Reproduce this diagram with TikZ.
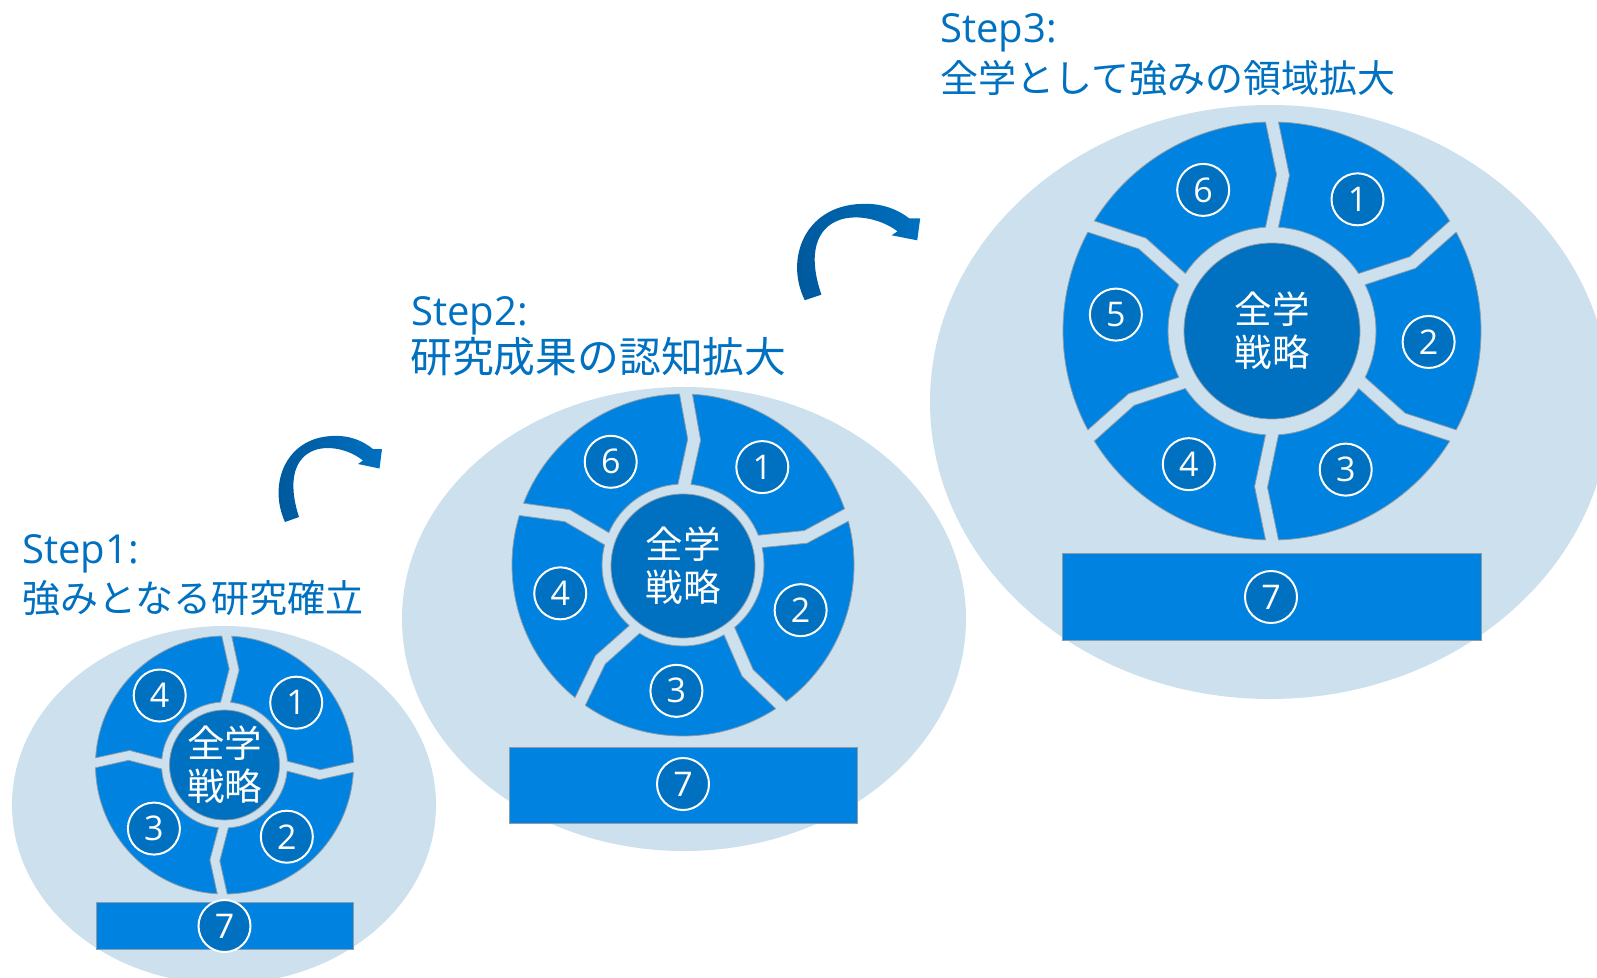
\documentclass[tikz,border=0pt]{standalone}
\usepackage{fontspec}
\setmainfont{Open Sans}
\newfontfamily\jpfont{Noto Sans CJK JP}
\definecolor{bgblue}{HTML}{CCE0ED}
\definecolor{segblue}{HTML}{0082E0}
\definecolor{darkblue}{HTML}{0070C0}
\definecolor{arrowdark}{HTML}{00579A}
\definecolor{edgegray}{HTML}{8E9CA8}

\newcommand\ringseg[8]{%
 \pgfmathsetmacro\sgM{(#3+#4)/2}%
 \pgfmathsetmacro\sgdR{deg(#5/2/#3)}%
 \pgfmathsetmacro\sgdI{deg(#5/2/#4)}%
 \pgfmathsetmacro\sgdM{deg(#5/2/\sgM)}%
 \pgfmathsetmacro\sgK{deg(#6/\sgM)}%
 \pgfmathsetmacro\sgA{#7+\sgdR}%
 \pgfmathsetmacro\sgB{#8-\sgdR}%
 \pgfmathsetmacro\sgC{#8-\sgdM+\sgK}%
 \pgfmathsetmacro\sgD{#8-\sgdI}%
 \pgfmathsetmacro\sgE{#7+\sgdI}%
 \pgfmathsetmacro\sgF{#7+\sgdM+\sgK}%
 \draw[segstyle] ([shift={(#1,#2)}]\sgA:#3) arc[start angle=\sgA, end angle=\sgB, radius=#3]
   -- ([shift={(#1,#2)}]\sgC:\sgM) -- ([shift={(#1,#2)}]\sgD:#4)
   arc[start angle=\sgD, end angle=\sgE, radius=#4]
   -- ([shift={(#1,#2)}]\sgF:\sgM) -- cycle;%
}
\newcommand\myring[7]{%
 \foreach \sgp/\sgq in {#7}{\ringseg{#1}{#2}{#3}{#4}{#5}{#6}{\sgp}{\sgq}}%
}
\newcommand\arrowpath{(25,102) .. controls (8,65) and (25,18) .. (72,16)
 .. controls (90,15) and (103,21) .. (113,29)
 -- (122,29) -- (119.5,48.5) -- (98,44) -- (103,40.5)
 .. controls (90,30) and (70,25) .. (55,30)
 .. controls (35,37) and (27,60) .. (39,97) -- cycle}

\tikzset{
 segstyle/.style={fill=segblue, draw=edgegray, line width=0.8pt, line join=round},
 hubstyle/.style={circle, fill=darkblue, draw=edgegray, line width=0.8pt, inner sep=0pt,
   text=white, align=center, font=\jpfont\fontsize{37.5}{43}\selectfont},
 numstyle/.style={circle, fill=darkblue, draw=white, line width=2pt, minimum size=52pt,
   inner sep=0pt, text=white, font=\fontsize{34}{34}\selectfont},
 barstyle/.style={rectangle, fill=segblue, draw=edgegray, line width=0.8pt, inner sep=0pt},
 titlelat/.style={anchor=base west, inner sep=0pt, text=darkblue, font=\fontsize{40}{48}\selectfont},
 titlejp/.style={anchor=base west, inner sep=0pt, text=darkblue, font=\jpfont\fontsize{38}{46}\selectfont},
}

\begin{document}
\begin{tikzpicture}[x=1pt,y=-1pt]
\useasboundingbox (0,0) rectangle (1597,977);
\clip (0,0) rectangle (1597,977);

% background ellipses
\fill[bgblue] (224,805) ellipse[x radius=212, y radius=179];
\fill[bgblue] (684,619) ellipse[x radius=282, y radius=232];
\fill[bgblue] (1270,402) ellipse[x radius=340, y radius=297];

% Step 1 ring
\myring{224.5}{765}{129}{63}{10}{8}{-89/1,1/91,91/181,181/271}
\node[hubstyle, minimum size=110pt] (hub1) at (224.5,765) {全学\\戦略};
\node[numstyle] (s1n1) at ([shift={(224.5,765)}]-41:95) {1};
\node[numstyle] (s1n2) at ([shift={(224.5,765)}]49:95) {2};
\node[numstyle] (s1n3) at ([shift={(224.5,765)}]138:95) {3};
\node[numstyle] (s1n4) at ([shift={(224.5,765)}]227:95) {4};
\node[barstyle, minimum width=257pt, minimum height=47pt] (bar1) at (224.5,926) {};
\node[numstyle] (s1n7) at (224.5,926) {7};

% Step 2 ring
\myring{683}{565}{171}{81}{13}{9}{-89/-17,-17/55,55/127,127/199,199/271}
\node[hubstyle, minimum size=144pt] (hub2) at (683,566) {全学\\戦略};
\node[numstyle] (s2n1) at ([shift={(683,565)}]-51:126) {1};
\node[numstyle] (s2n2) at ([shift={(683,565)}]21:126) {2};
\node[numstyle] (s2n3) at ([shift={(683,565)}]93:126) {3};
\node[numstyle] (s2n4) at ([shift={(683,565)}]167:126) {4};
\node[numstyle] (s2n6) at ([shift={(683,565)}]235:126) {6};
\node[barstyle, minimum width=348pt, minimum height=76pt] (bar2) at (683,785) {};
\node[numstyle] (s2n7) at (683,784) {7};

% Step 3 ring
\myring{1272}{331}{209}{104}{13}{11}{-90/-30,-30/30,30/90,90/150,150/210,210/270}
\node[hubstyle, minimum size=176pt] (hub3) at (1272,331) {全学\\戦略};
\node[numstyle] (s3n1) at ([shift={(1272,331)}]-57:157) {1};
\node[numstyle] (s3n2) at ([shift={(1272,331)}]4:157) {2};
\node[numstyle] (s3n3) at ([shift={(1272,331)}]62:157) {3};
\node[numstyle] (s3n4) at ([shift={(1272,331)}]122:157) {4};
\node[numstyle] (s3n5) at ([shift={(1272,331)}]186:157) {5};
\node[numstyle] (s3n6) at ([shift={(1272,331)}]244:157) {6};
\node[barstyle, minimum width=419pt, minimum height=87pt] (bar3) at (1271.5,596.5) {};
\node[numstyle] (s3n7) at (1271,597) {7};

% curved arrows
\begin{scope}[shift={(260,420)}]
 \shade[left color=arrowdark, right color=darkblue] \arrowpath;
\end{scope}
\begin{scope}[shift={(775,186)}, xscale=1.19, yscale=1.12]
 \shade[left color=arrowdark, right color=darkblue] \arrowpath;
\end{scope}

% titles
\node[titlelat] (t1a) at (22,563) {Step1:};
\node[titlejp] (t1b) at (22,612) {強みとなる研究確立};
\node[titlelat] (t2a) at (411,325) {Step2:};
\node[titlejp, font=\jpfont\fontsize{41.8}{46}\selectfont] (t2b) at (410,372) {研究成果の認知拡大};
\node[titlelat] (t3a) at (940,42) {Step3:};
\node[titlejp] (t3b) at (940,92) {全学として強みの領域拡大};
\end{tikzpicture}
\end{document}
